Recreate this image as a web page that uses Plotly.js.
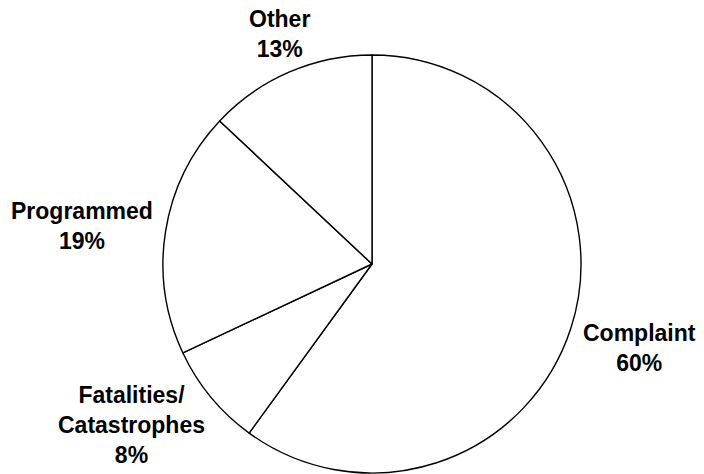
<!DOCTYPE html>
<html>
<head>
<meta charset="utf-8">
<script src="https://cdn.plot.ly/plotly-3.0.1.min.js"></script>
<style>html,body{margin:0;padding:0;background:#fff;}</style>
</head>
<body>
<div id="chart" style="width:704px;height:474px;"></div>
<script>
const categories = ["Complaint", "Fatalities/<br>Catastrophes", "Programmed", "Other"];
const shares = [60, 8, 19, 13];

// label placement (pixel centres on the 704x474 canvas) - layout only
const W = 704, H = 474;
const M = { l: 40, r: 0, t: 55, b: 1 };
const labelCentres = [[639, 348], [131, 425], [82, 226], [279, 34]];

const total = shares.reduce((a, b) => a + b, 0);
const FONT = "Liberation Sans, Arial, sans-serif";

const trace = {
  type: "pie",
  labels: categories,
  values: shares,
  sort: false,
  direction: "clockwise",
  rotation: 0,
  textinfo: "none",
  hoverinfo: "label+percent",
  marker: { colors: ["#ffffff", "#ffffff", "#ffffff", "#ffffff"], line: { color: "#000000", width: 1.4 } },
  automargin: false,
  showlegend: false
};

const pw = W - M.l - M.r, ph = H - M.t - M.b;
const annotations = categories.map((c, i) => ({
  xref: "paper", yref: "paper",
  x: (labelCentres[i][0] - M.l) / pw,
  y: 1 - (labelCentres[i][1] - M.t) / ph,
  xanchor: "center", yanchor: "middle",
  showarrow: false,
  align: "center",
  text: c + "<br>" + Math.round(shares[i] / total * 100) + "%",
  font: { family: FONT, size: 23, color: "#000000", weight: "bold" }
}));

const layout = {
  width: W,
  height: H,
  margin: M,
  paper_bgcolor: "#ffffff",
  plot_bgcolor: "#ffffff",
  showlegend: false,
  font: { family: FONT, color: "#000000" },
  annotations: annotations
};

Plotly.newPlot("chart", [trace], layout, { displayModeBar: false, staticPlot: true });
</script>
</body>
</html>
